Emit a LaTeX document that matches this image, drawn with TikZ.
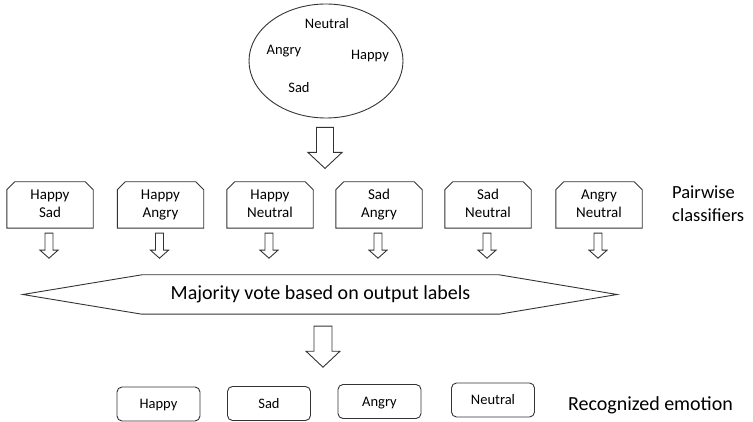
\documentclass[tikz,border=0pt]{standalone}
\usepackage{fontspec}
\setmainfont{Carlito}
\usetikzlibrary{shapes.geometric,calc}
\begin{document}
\begin{tikzpicture}[x=1pt,y=-1pt,
  outline/.style={draw=black!80,line width=0.9pt},
  pairbox/.style={rectangle,minimum width=86pt,minimum height=46pt,inner sep=0pt,
    align=center,font=\fontsize{15}{18}\selectfont},
  emobox/.style={outline,rounded corners=5pt,minimum width=83pt,
    minimum height=34pt,inner sep=0pt,text height=9.5pt,text depth=0pt,
    font=\fontsize{14.5}{17}\selectfont},
  setword/.style={anchor=base,inner sep=0pt,font=\fontsize{14.5}{17}\selectfont},
  blockarrow/.style={outline,fill=white,line join=miter},
  pics/downarrow/.style args={#1/#2/#3/#4}{code={
    \draw[blockarrow] (-#1,0) -- (#1,0) -- (#1,#3-#4) -- (#2,#3-#4)
      -- (0,#3) -- (-#2,#3-#4) -- (-#1,#3-#4) -- cycle;}}
]
\useasboundingbox (0,0) rectangle (753,422);

% set of emotions
\node[outline,ellipse,minimum width=154pt,minimum height=114pt,inner sep=0pt] (pool) at (326,61) {};
\node[setword] (w-neutral) at (327,29) {Neutral};
\node[setword] (w-angry) at (284,55) {Angry};
\node[setword] (w-happy) at (370,60) {Happy};
\node[setword] (w-sad) at (299,93) {Sad};

\path ($(pool.south)+(-1,9)$) pic {downarrow=8.5/17/41/16};

% pairwise classifiers
\node[pairbox] (p1) at (50,205)    {\strut Happy\\Sad\strut};
\node[pairbox] (p2) at (160.5,205) {\strut Happy\\Angry\strut};
\node[pairbox] (p3) at (270,205)   {\strut Happy\\Neutral\strut};
\node[pairbox] (p4) at (379,205)   {\strut Sad\\Angry\strut};
\node[pairbox] (p5) at (488,205)   {\strut Sad\\Neutral\strut};
\node[pairbox] (p6) at (599,205)   {\strut Angry\\Neutral\strut};
\node[anchor=west,align=left,inner sep=0pt,font=\fontsize{18.5}{23.4}\selectfont] (pw) at (672,203.5) {Pairwise\\classifiers};

% classifier outlines with clipped top corners, and their output arrows
\foreach \p in {p1,p2,p3,p4,p5,p6}{
  \draw[outline] (\p.south west) -- ($(\p.north west)+(0,8)$) -- ($(\p.north west)+(8,0)$)
    -- ($(\p.north east)+(-8,0)$) -- ($(\p.north east)+(0,8)$) -- (\p.south east) -- cycle;
  \path ($(\p.south)+(-1,5)$) pic {downarrow=4/9/25/8};
}

% voting stage
\node[inner sep=0pt,minimum width=357pt,minimum height=39pt,
  font=\fontsize{20}{24}\selectfont] (vote) at (320.5,294.5) {Majority vote based on output labels};
\draw[outline] (vote.north west) -- (vote.north east) -- ($(vote.east)+(118,0)$)
  -- (vote.south east) -- (vote.south west) -- ($(vote.west)+(-119,0)$) -- cycle;

\path ($(vote.south)+(2.5,12)$) pic {downarrow=9/17/41/16};

% recognized emotion
\node[emobox] (e1) at (158.5,404)   {Happy};
\node[emobox] (e2) at (269,403.5)   {Sad};
\node[emobox] (e3) at (379.5,401.5) {Angry};
\node[emobox] (e4) at (493,400)     {Neutral};
\node[anchor=base,inner sep=0pt,font=\fontsize{20}{24}\selectfont] (rec) at (650.5,410) {Recognized emotion};
\end{tikzpicture}
\end{document}
